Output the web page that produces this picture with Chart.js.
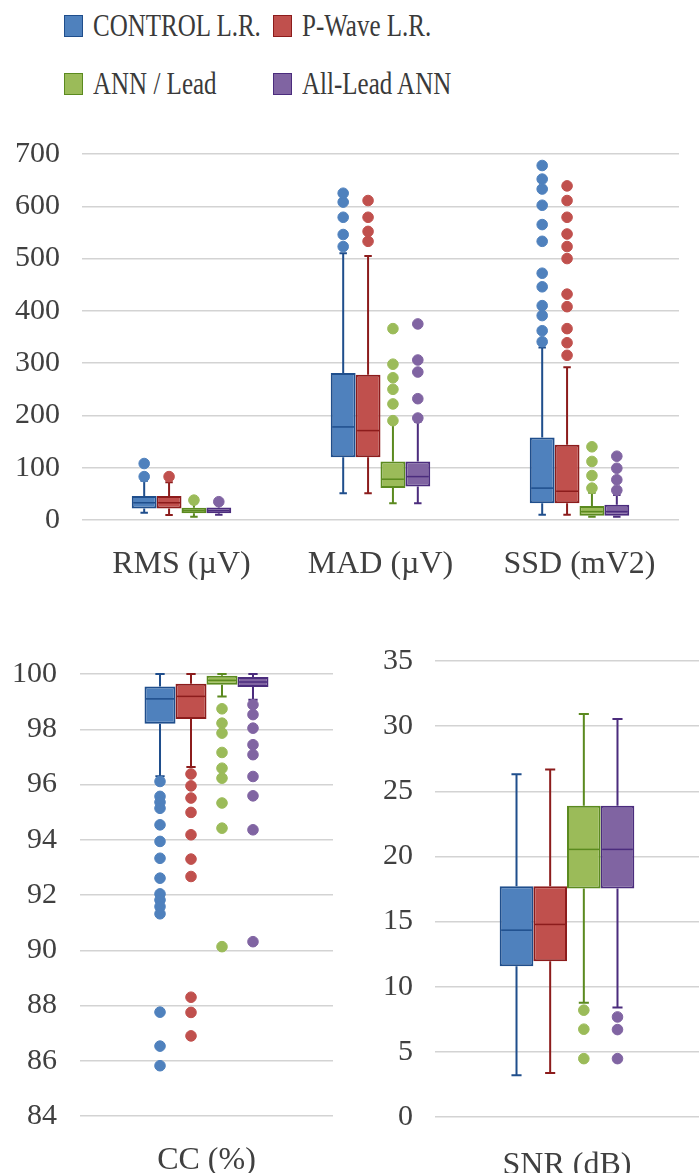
<!DOCTYPE html>
<html><head><meta charset="utf-8">
<script src="https://cdn.jsdelivr.net/npm/chart.js@4.4.1/dist/chart.umd.min.js"></script>
<style>
html,body{margin:0;padding:0;background:#fff;}
body{width:700px;height:1173px;position:relative;overflow:hidden;font-family:'Liberation Serif','Times New Roman',serif;}
canvas{position:absolute;}
.sw{position:absolute;box-sizing:border-box;border:1.5px solid;}
.lt{position:absolute;font-size:25px;line-height:30px;height:30px;color:#3a3a3a;white-space:nowrap;font-family:'Liberation Serif','Times New Roman',serif;transform:scaleY(1.28);transform-origin:0 50%;}
</style></head><body>
<div id="legend"></div>
<canvas id="top" width="700" height="480" style="left:0;top:110px"></canvas>
<canvas id="cc" width="360" height="543" style="left:0;top:630px"></canvas>
<canvas id="snr" width="340" height="556" style="left:360px;top:617px"></canvas>
<script>
// ---------- series ----------
const seriesNames = ['CONTROL L.R.', 'P-Wave L.R.', 'ANN / Lead', 'All-Lead ANN'];
const fillColors = ['#4f81bd', '#c0504d', '#9bbb59', '#8064a2'];
const lineColors = ['#1f4e8c', '#8c1c1c', '#5b8a1f', '#4b2c7d'];

// ---------- top panel: RMS / MAD / SSD ----------
// each stats entry: [lower whisker, Q1, median, Q3, upper whisker]
const topCategories = ['RMS (µV)', 'MAD (µV)', 'SSD (mV2)'];
const topYMin = 0, topYMax = 700, topYStep = 100;
const controlTopStats = [[14, 22, 33, 46, 75], [51, 120, 178, 281, 510], [10, 32, 61, 158, 330]];
const pwaveTopStats   = [[9.5, 22, 33, 46, 72], [51, 120, 171, 278, 505], [10, 32, 55, 144, 292]];
const annTopStats     = [[6, 13, 18, 23.5, 32], [32, 61, 78, 112, 185], [6, 8, 16, 27, 52]];
const allLeadTopStats = [[10, 13, 18, 24, 30], [32, 64, 83, 112, 188], [6, 8, 16, 29, 48]];
const controlTopOutliers = [[83, 108], [523, 546, 579, 608, 625], [341, 362, 391, 410, 446, 472, 533, 565, 602, 633, 652, 678]];
const pwaveTopOutliers   = [[83], [533, 552, 579, 611], [315, 339, 366, 408, 432, 500, 523, 547, 579, 611, 639]];
const annTopOutliers     = [[38], [190, 222, 250, 272, 298, 366], [61, 85, 112, 140]];
const allLeadTopOutliers = [[35], [195, 232, 283, 306, 375], [57, 77, 99, 122]];

// ---------- bottom-left panel: CC ----------
const ccCategories = ['CC (%)'];
const ccYMin = 84, ccYMax = 100, ccYStep = 2;
const controlCcStats = [[96.3, 98.2, 99.1, 99.55, 100]];
const pwaveCcStats   = [[96.63, 98.37, 99.19, 99.65, 100]];
const annCcStats     = [[99.19, 99.61, 99.77, 99.94, 100]];
const allLeadCcStats = [[99.07, 99.53, 99.71, 99.89, 100]];
const controlCcOutliers = [[96.11, 95.57, 95.36, 95.14, 94.54, 93.94, 93.33, 92.61, 92.04, 91.82, 91.58, 91.32, 87.76, 86.53, 85.82]];
const pwaveCcOutliers   = [[96.38, 95.95, 95.51, 94.99, 94.18, 93.3, 92.67, 88.3, 87.75, 86.9]];
const annCcOutliers     = [[98.74, 98.22, 97.86, 97.16, 96.59, 96.23, 95.33, 94.42, 90.13]];
const allLeadCcOutliers = [[98.89, 98.53, 98.04, 97.44, 97.08, 96.29, 95.59, 94.36, 90.31]];

// ---------- bottom-right panel: SNR ----------
const snrCategories = ['SNR (dB)'];
const snrYMin = 0, snrYMax = 35, snrYStep = 5;
const controlSnrStats = [[3.2, 11.57, 14.34, 17.72, 26.3]];
const pwaveSnrStats   = [[3.38, 11.96, 14.78, 17.72, 26.68]];
const annSnrStats     = [[8.76, 17.54, 20.54, 23.89, 30.93]];
const allLeadSnrStats = [[8.4, 17.54, 20.54, 23.89, 30.55]];
const controlSnrOutliers = [[]];
const pwaveSnrOutliers   = [[]];
const annSnrOutliers     = [[8.2, 6.74, 4.48]];
const allLeadSnrOutliers = [[7.68, 6.71, 4.48]];

// ---------- legend (HTML) ----------
(function(){
  const lg = document.getElementById('legend');
  const pos = [[64, 25.5], [273, 25.5], [64, 84], [273, 84]];
  seriesNames.forEach((n, k) => {
    const [x, y] = pos[k];
    const s = document.createElement('div');
    s.className = 'sw';
    s.style.cssText = `left:${x}px;top:${y - 11}px;width:19px;height:22px;background:${fillColors[k]};border-color:${lineColors[k]};`;
    lg.appendChild(s);
    const t = document.createElement('div');
    t.className = 'lt';
    t.textContent = n;
    t.style.left = (x + 29) + 'px';
    t.style.top = (y - 15) + 'px';
    lg.appendChild(t);
  });
})();

const FONT = "'Liberation Serif', 'Times New Roman', serif";
Chart.defaults.font.family = FONT;
Chart.defaults.color = '#404040';

const boxPlugin = {
  id: 'boxParts',
  beforeDatasetDraw(chart, args) {
    const ds = chart.data.datasets[args.index];
    if (!ds.stats) return;
    const ctx = chart.ctx, y = chart.scales.y;
    ctx.save();
    ctx.strokeStyle = ds.borderColor;
    ctx.lineWidth = 2;
    args.meta.data.forEach((el, j) => {
      const s = ds.stats[j];
      const x = el.x, cap = el.width * 0.3;
      const pl = y.getPixelForValue(s[0]), p1 = y.getPixelForValue(s[1]);
      const p3 = y.getPixelForValue(s[3]), ph = y.getPixelForValue(s[4]);
      ctx.beginPath();
      ctx.moveTo(x, p3); ctx.lineTo(x, ph);
      ctx.moveTo(x, p1); ctx.lineTo(x, pl);
      ctx.moveTo(x - cap / 2, ph); ctx.lineTo(x + cap / 2, ph);
      ctx.moveTo(x - cap / 2, pl); ctx.lineTo(x + cap / 2, pl);
      ctx.stroke();
    });
    ctx.restore();
  },
  afterDatasetDraw(chart, args) {
    const ds = chart.data.datasets[args.index];
    if (!ds.stats) return;
    const ctx = chart.ctx, y = chart.scales.y;
    ctx.save();
    ctx.strokeStyle = ds.borderColor;
    ctx.lineWidth = 1.5;
    args.meta.data.forEach((el, j) => {
      const pm = y.getPixelForValue(ds.stats[j][2]);
      ctx.beginPath();
      ctx.moveTo(el.x - el.width / 2 + 1.5, pm);
      ctx.lineTo(el.x + el.width / 2 - 1.5, pm);
      ctx.stroke();
    });
    ctx.restore();
  },
  afterDatasetsDraw(chart) {
    const ctx = chart.ctx, y = chart.scales.y;
    chart.data.datasets.forEach((ds, i) => {
      if (!ds.outliers) return;
      const meta = chart.getDatasetMeta(i);
      ctx.save();
      ctx.fillStyle = ds.backgroundColor;
      ctx.strokeStyle = ds.backgroundColor;
      ctx.lineWidth = 1;
      meta.data.forEach((el, j) => {
        (ds.outliers[j] || []).forEach(v => {
          ctx.beginPath();
          ctx.arc(el.x, y.getPixelForValue(v), 5.3, 0, Math.PI * 2);
          ctx.fill();
          ctx.stroke();
        });
      });
      ctx.restore();
    });
  }
};

function buildChart(id, categories, stats, outliers, yMin, yMax, yStep, cfg) {
  const datasets = stats.map((s, k) => ({
    type: 'bar', label: seriesNames[k],
    data: s.map(v => [v[1], v[3]]),
    stats: s,
    outliers: outliers[k],
    backgroundColor: fillColors[k], borderColor: lineColors[k],
    borderWidth: 2, borderSkipped: false,
    categoryPercentage: cfg.catPct, barPercentage: 1
  }));
  return new Chart(document.getElementById(id), {
    type: 'bar',
    data: { labels: categories, datasets },
    plugins: [boxPlugin],
    options: {
      responsive: false, animation: false, devicePixelRatio: 1,
      layout: { padding: cfg.padding },
      plugins: { legend: { display: false }, tooltip: { enabled: false } },
      scales: {
        x: {
          type: 'category', offset: true,
          grid: { display: false }, border: { display: false },
          ticks: { padding: cfg.xPad, font: { family: FONT, size: 32 }, color: '#404040' },
          afterFit: s => { s.height = cfg.xHeight; }
        },
        y: {
          min: yMin, max: yMax,
          ticks: { stepSize: yStep, padding: cfg.yPad, font: { family: FONT, size: 30 }, color: '#404040' },
          grid: { color: '#d3d3d3', lineWidth: 1.5, drawTicks: false },
          border: { display: false },
          afterFit: s => { s.width = cfg.yWidth; }
        }
      }
    }
  });
}

buildChart('top', topCategories,
  [controlTopStats, pwaveTopStats, annTopStats, allLeadTopStats],
  [controlTopOutliers, pwaveTopOutliers, annTopOutliers, allLeadTopOutliers],
  topYMin, topYMax, topYStep,
  { catPct: 0.5, padding: { top: 44, right: 21, left: 0, bottom: 0 }, xPad: 17, xHeight: 70, yPad: 22, yWidth: 82 });

buildChart('cc', ccCategories,
  [controlCcStats, pwaveCcStats, annCcStats, allLeadCcStats],
  [controlCcOutliers, pwaveCcOutliers, annCcOutliers, allLeadCcOutliers],
  ccYMin, ccYMax, ccYStep,
  { catPct: 0.49, padding: { top: 44, right: 27, left: 0, bottom: 0 }, xPad: 17, xHeight: 57, yPad: 23, yWidth: 80 });

buildChart('snr', snrCategories,
  [controlSnrStats, pwaveSnrStats, annSnrStats, allLeadSnrStats],
  [controlSnrOutliers, pwaveSnrOutliers, annSnrOutliers, allLeadSnrOutliers],
  snrYMin, snrYMax, snrYStep,
  { catPct: 0.51, padding: { top: 44, right: 1, left: 0, bottom: 0 }, xPad: 21, xHeight: 56, yPad: 22, yWidth: 75 });
</script>
</body></html>
